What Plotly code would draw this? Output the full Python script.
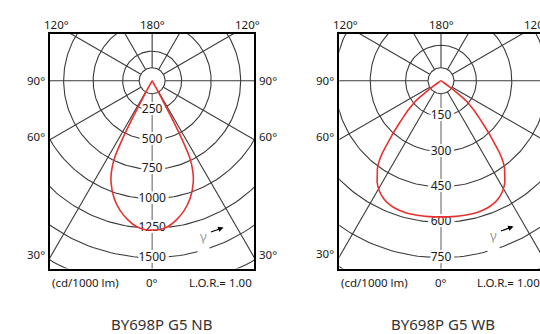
import numpy as np
import plotly.graph_objects as go

# ---------------- data ----------------
nb_gamma = [0, 3, 6, 10, 14, 18, 22, 24, 26, 27, 27.5, 28, 28.5, 29, 29.5]
nb_cd = [1265, 1262, 1245, 1195, 1130, 1045, 930, 850, 730, 560, 420, 260, 120, 30, 0]

wb_gamma = [0, 5, 10, 15, 20, 23, 26, 29, 32, 34, 36, 37.4, 39, 40.2, 42, 44, 46, 48, 50, 51, 52, 53, 54, 55, 56]
wb_cd = [577, 578, 579, 579, 574, 567, 555, 537, 510, 483, 458, 433, 395, 357, 310, 261, 222, 190, 158, 142, 115, 80, 45, 15, 0]

nb_rings = [250, 500, 750, 1000, 1250, 1500]
wb_rings = [150, 300, 450, 600, 750]
radial_angles = [0, 30, 60, 90, 120, 150, 180, 210, 240, 270, 300, 330]

titles = ["BY698P G5 NB", "BY698P G5 WB"]
unit_label = "(cd/1000 lm)"
lor_label = "L.O.R.= 1.00"

# ---------------- layout constants (pixels) ----------------
W, H = 540, 334
TOP, BOTTOM = 33.5, 268.5
CY = 80.7
RING_PX = 177.0      # pixel radius of the outermost labelled ring
INNER_PX = 13.0      # small hub circle
FONT = "Noto Sans"
TXT = "#1a1a1a"
GRID = "#3a3a3a"
RED = "#e8312f"

panels = [
    dict(gamma=nb_gamma, cd=nb_cd, rings=nb_rings, left=50.0, right=254.3, cx=152.15,
         title=titles[0], title_x=161.7, gam=(203.0, 232.0)),
    dict(gamma=wb_gamma, cd=wb_cd, rings=wb_rings, left=339.3, right=542.8, cx=441.0,
         title=titles[1], title_x=443.3, gam=(493.0, 231.0)),
]


def fx(px):
    return px / W


def fy(py):
    return 1 - py / H


fig = go.Figure()
annotations = []
shadow = ("2px 0 0 #fff, -2px 0 0 #fff, 0 2px 0 #fff, 0 -2px 0 #fff, "
          "2px 2px 0 #fff, -2px -2px 0 #fff, 2px -2px 0 #fff, -2px 2px 0 #fff, "
          "3px 0 0 #fff, -3px 0 0 #fff, 3px 1px 0 #fff, -3px 1px 0 #fff, 3px -1px 0 #fff, -3px -1px 0 #fff")

for i, p in enumerate(panels):
    ax_sfx = "" if i == 0 else str(i + 1)
    xa, ya = "x" + ax_sfx, "y" + ax_sfx
    rings = p["rings"]
    k = rings[-1] / RING_PX          # cd per pixel
    step = rings[1] - rings[0]
    inner = INNER_PX * k
    all_rings = [inner] + rings + [rings[-1] + step]

    # circles
    th = np.linspace(0, 2 * np.pi, 241)
    cx_, cy_ = [], []
    for r in all_rings:
        cx_ += list(r * np.sin(th)) + [None]
        cy_ += list(r * np.cos(th)) + [None]
    fig.add_trace(go.Scatter(x=cx_, y=cy_, mode="lines", xaxis=xa, yaxis=ya,
                             line=dict(color=GRID, width=1.1), hoverinfo="skip", showlegend=False))
    # radial lines
    rx, ry = [], []
    far = 320 * k
    for a in radial_angles:
        if a == 0:
            continue
        t = np.radians(a)
        rx += [inner * np.sin(t), far * np.sin(t), None]
        ry += [-inner * np.cos(t), -far * np.cos(t), None]
    fig.add_trace(go.Scatter(x=rx, y=ry, mode="lines", xaxis=xa, yaxis=ya,
                             line=dict(color=GRID, width=1.1), hoverinfo="skip", showlegend=False))
    fig.add_trace(go.Scatter(x=[0, 0], y=[-inner, -far], mode="lines", xaxis=xa, yaxis=ya,
                             line=dict(color="#6a6a6a", width=1.1), hoverinfo="skip", showlegend=False))
    # ring labels
    fig.add_trace(go.Scatter(x=[0] * len(rings), y=[-r for r in rings], mode="text",
                             text=[str(r) for r in rings], xaxis=xa, yaxis=ya,
                             textposition="middle center",
                             textfont=dict(family=FONT, size=12, color=TXT, shadow=shadow),
                             hoverinfo="skip", showlegend=False))
    # intensity curve (symmetric)
    g = np.radians(np.array(p["gamma"], dtype=float))
    I = np.array(p["cd"], dtype=float)
    gg = np.concatenate([-g[::-1], g[1:]])
    II = np.concatenate([I[::-1], I[1:]])
    fig.add_trace(go.Scatter(x=II * np.sin(gg), y=-II * np.cos(gg), mode="lines",
                             xaxis=xa, yaxis=ya, line=dict(color=RED, width=1.6, shape="spline", smoothing=0.6),
                             hoverinfo="skip", showlegend=False))

    # axes
    x_right_px = min(p["right"], W)
    dom_x = [fx(p["left"]), fx(x_right_px)]
    dom_y = [fy(BOTTOM), fy(TOP)]
    xr = [-(p["cx"] - p["left"]) * k, (x_right_px - p["cx"]) * k]
    yr = [-(BOTTOM - CY) * k, (CY - TOP) * k]
    common = dict(showgrid=False, zeroline=False, showticklabels=False, ticks="",
                  showline=True, linecolor="black", linewidth=2)
    fig.update_layout(**{
        "xaxis" + ax_sfx: dict(domain=dom_x, range=xr, mirror=True, anchor=ya, **common),
        "yaxis" + ax_sfx: dict(domain=dom_y, range=yr, mirror=(p["right"] <= W), anchor=xa, **common),
    })

    # angle labels
    cx = p["cx"]
    d120 = (CY - TOP) / np.tan(np.radians(30))
    ty = 24.5
    annotations += [
        dict(text="120°", x=fx(cx - d120 + 1), y=fy(ty), xanchor="right"),
        dict(text="180°", x=fx(cx), y=fy(ty), xanchor="center"),
        dict(text="120°", x=fx(cx + d120 - 1), y=fy(ty), xanchor="left"),
    ]
    half = cx - p["left"]
    for ang in (90, 60, 30):
        yy = CY + half / np.tan(np.radians(ang)) - (0 if ang == 90 else 3)
        annotations.append(dict(text=f"{ang}°", x=fx(p["left"] - 3.5), y=fy(yy), xanchor="right"))
        if p["right"] + 2.5 < W:
            annotations.append(dict(text=f"{ang}°", x=fx(p["right"] + 2.5), y=fy(yy), xanchor="left"))
    by = 282.7
    annotations += [
        dict(text=unit_label, x=fx(p["left"]), y=fy(by), xanchor="left"),
        dict(text="0°", x=fx(cx), y=fy(by), xanchor="center"),
        dict(text=lor_label, x=fx(p["right"] - 0.5), y=fy(by), xanchor="right"),
        dict(text=p["title"], x=fx(p["title_x"]), y=fy(324), xanchor="center",
             font=dict(family=FONT, size=15, color="#333")),
    ]
    gx, gy = p["gam"]
    annotations.append(dict(text="γ", x=fx(gx), y=fy(gy - 6), xanchor="center", yanchor="top",
                            bgcolor="white", width=11, height=27, valign="top", borderpad=0,
                            font=dict(family=FONT, size=13, color="#9a9a9a")))
    annotations.append(dict(text="", x=fx(gx + 20.5), y=fy(gy - 4.5), ax=-14, ay=5,
                            showarrow=True, arrowhead=2, arrowsize=0.9, arrowwidth=1.2,
                            arrowcolor="black", standoff=0, startstandoff=0))

for a in annotations:
    a.setdefault("xref", "paper")
    a.setdefault("yref", "paper")
    a.setdefault("yanchor", "middle")
    a.setdefault("showarrow", False)
    a.setdefault("font", dict(family=FONT, size=11.5, color=TXT))

fig.update_layout(width=W, height=H, margin=dict(l=0, r=0, t=0, b=0),
                  paper_bgcolor="white", plot_bgcolor="white",
                  annotations=annotations, showlegend=False)

fig.write_html("out.html", config={"displayModeBar": False, "staticPlot": True},
               post_script="document.body.style.margin='0';document.body.style.overflow='hidden';")
